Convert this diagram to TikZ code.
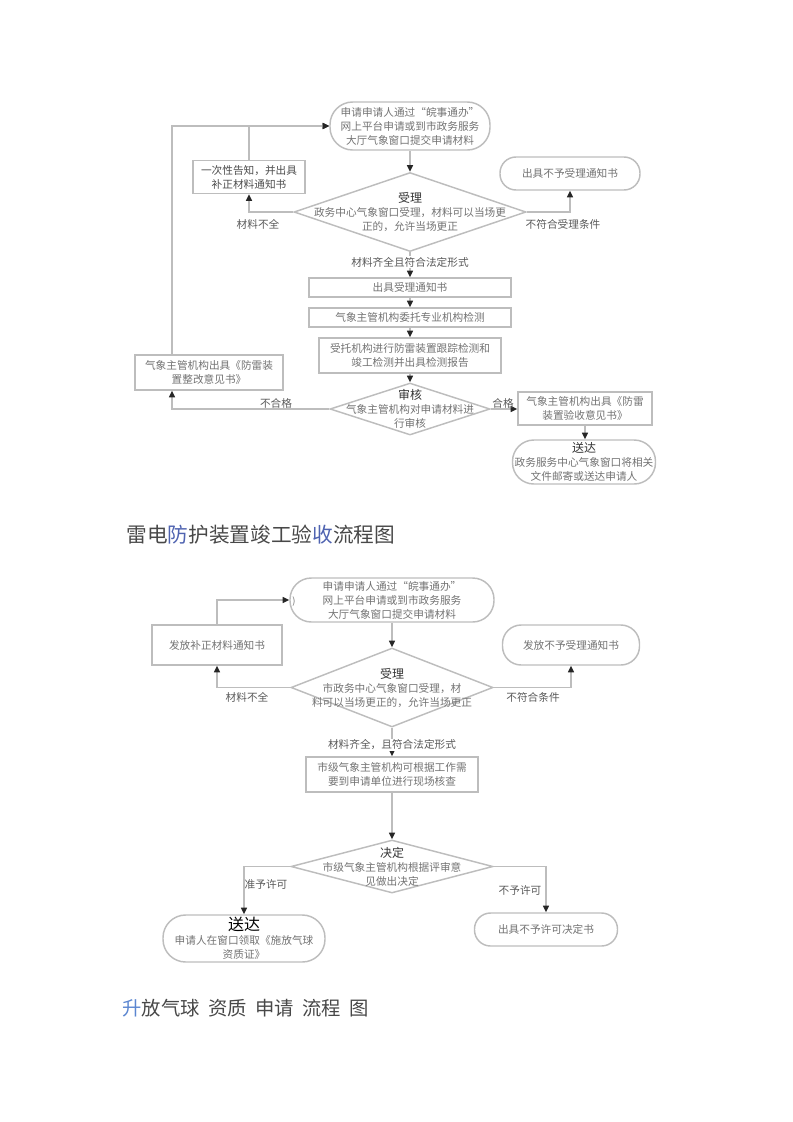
\documentclass[tikz,border=0pt]{standalone}
\usepackage{fontspec}
\setmainfont{Noto Sans CJK SC}
\usetikzlibrary{shapes.geometric,arrows.meta}

\definecolor{lineg}{HTML}{BDBDBD}
\definecolor{textg}{HTML}{727272}
\definecolor{titleg}{HTML}{484848}
\definecolor{titleb}{HTML}{4F63B0}
\definecolor{titlebl}{HTML}{5B86D0}
\newcommand{\dhead}[1]{{\color{black!80}\fontsize{9}{11}\selectfont #1}}

\begin{document}
\begin{tikzpicture}[x=0.75pt,y=-0.75pt,
  every node/.style={font=\fontsize{8}{10.5}\selectfont, text=textg, align=center, inner sep=1pt},
  sbox/.style={draw=lineg, line width=1.1pt, rectangle, inner sep=0pt},
  rbox/.style={sbox, rounded corners=12pt},
  dbox/.style={draw=lineg, line width=1.1pt, diamond, inner sep=0pt},
  conn/.style={draw=lineg, line width=1.1pt, -{Triangle[length=5pt,width=4.5pt,color=black!85]}},
  lab/.style={text=black!65}]
\useasboundingbox (0,0) rectangle (793,1122);

% 雷电防护装置竣工验收
\node[rbox, rounded corners=17pt, minimum width=120pt, minimum height=36pt] at (410,126) (start1) {申请申请人通过“皖事通办”\\网上平台申请或到市政务服务\\大厅气象窗口提交申请材料};
\node[sbox, minimum width=84pt, minimum height=24.75pt, text=black!70] at (249,177) (fix1) {一次性告知，并出具\\补正材料通知书};
\node[rbox, minimum width=105pt, minimum height=24.75pt] at (570,173.5) (no1) {出具不予受理通知书};
\node[dbox, minimum width=174pt, minimum height=59.25pt] at (410,212) (d1) {};
\node at (d1) (d1t) {\dhead{受理}\\政务中心气象窗口受理，材料可以当场更\\正的，允许当场更正};
\node[sbox, minimum width=151.5pt, minimum height=14.25pt] at (410,287.5) (acc1) {出具受理通知书};
\node[sbox, minimum width=151.5pt, minimum height=14.25pt] at (410,317.5) (ent1) {气象主管机构委托专业机构检测};
\node[sbox, minimum width=136.5pt, minimum height=26.25pt] at (410,355.5) (test1) {受托机构进行防雷装置跟踪检测和\\竣工检测并出具检测报告};
\node[dbox, minimum width=120pt, minimum height=39pt] at (410,409) (d2) {};
\node at (d2) (d2t) {\dhead{审核}\\气象主管机构对申请材料进\\行审核};
\node[sbox, minimum width=111pt, minimum height=26.25pt] at (209,372.5) (rect1) {气象主管机构出具《防雷装\\置整改意见书》};
\node[sbox, minimum width=100.5pt, minimum height=24.75pt] at (585,408.5) (pass1) {气象主管机构出具《防雷\\装置验收意见书》};
\node[rbox, rounded corners=16pt, minimum width=107.25pt, minimum height=33pt] at (584,462) (send1) {\dhead{送达}\\政务服务中心气象窗口将相关\\文件邮寄或送达申请人};
\coordinate (back) at (172,126);

\draw[conn] (start1) -- (d1);
\draw[conn] (d1.west) -| (fix1.south);
\draw[conn] (d1.east) -| (no1.south);
\draw[conn] (fix1.north) |- (start1.west);
\draw[conn] (d1) -- (acc1);
\draw[conn] (acc1) -- (ent1);
\draw[conn] (ent1) -- (test1);
\draw[conn] (test1) -- (d2);
\draw[conn] (d2.west) -| (rect1.south -| back);
\draw[conn] (rect1.north -| back) |- (start1.west);
\draw[conn] (d2.east) -- (d2.east -| pass1.west);
\draw[conn] (pass1.south) -- (pass1.south |- send1.north);

\node[lab] at (258,224) (l1) {材料不全};
\node[lab] at (563,224) (l2) {不符合受理条件};
\node[lab, fill=white] at (410,262) (l3) {材料齐全且符合法定形式};
\node[lab] at (276,403) (l4) {不合格};
\node[lab] at (503,403) (l5) {合格};

\node[text=titleg, font=\fontsize{15.5}{18}\selectfont, anchor=west] at (125,535) (title1) {雷电{\color{titleb}防}护装置竣工验{\color{titleb}收}流程图};

% 升放气球资质申请
\node[rbox, rounded corners=16pt, minimum width=153pt, minimum height=33pt] at (392,600) (start2) {申请申请人通过“皖事通办”\\网上平台申请或到市政务服务\\大厅气象窗口提交申请材料};
\node[font=\fontsize{7}{8}\selectfont] at (294,602) (paren) {)};
\node[sbox, minimum width=97.5pt, minimum height=30pt] at (217,645) (fix2) {发放补正材料通知书};
\node[rbox, rounded corners=14pt, minimum width=102.75pt, minimum height=30pt] at (571,645) (no2) {发放不予受理通知书};
\node[dbox, minimum width=151.5pt, minimum height=59.25pt] at (392,687.5) (d3) {};
\node at (d3) (d3t) {\dhead{受理}\\市政务中心气象窗口受理，材\\料可以当场更正的，允许当场更正};
\node[sbox, minimum width=129pt, minimum height=26.25pt] at (392,774.5) (chk2) {市级气象主管机构可根据工作需\\要到申请单位进行现场核查};
\node[dbox, minimum width=151.5pt, minimum height=39.75pt] at (392,866.5) (d4) {};
\node at (d4) (d4t) {\dhead{决定}\\市级气象主管机构根据评审意\\见做出决定};
\node[rbox, rounded corners=17pt, minimum width=121.5pt, minimum height=35.25pt] at (244,938.5) (ok2) {{\color{black}\fontsize{12}{13}\selectfont 送达}\\申请人在窗口领取《施放气球\\资质证》};
\node[rbox, minimum width=107.25pt, minimum height=24.75pt] at (546,929.5) (ref2) {出具不予许可决定书};

\draw[conn] (start2) -- (d3);
\draw[conn] (d3.west) -| (fix2.south);
\draw[conn] (d3.east) -| (no2.south);
\draw[conn] (fix2.north) |- (start2.west);
\draw[conn] (d3) -- (chk2);
\draw[conn] (chk2) -- (d4);
\draw[conn] (d4.west) -| (ok2.north);
\draw[conn] (d4.east) -| (ref2.north);

\node[lab] at (247,697) (m1) {材料不全};
\node[lab] at (533,697) (m2) {不符合条件};
\node[lab, fill=white] at (392,745) (m3) {材料齐全，且符合法定形式};
\node[lab] at (266,884) (m4) {准予许可};
\node[lab] at (520,890) (m5) {不予许可};

\node[text=titleg, font=\fontsize{14.5}{17}\selectfont, anchor=west] at (121,1008) (title2) {{\color{titlebl}升}放气球\hspace{3pt} 资质\hspace{3pt} 申请\hspace{3pt} 流程\hspace{3pt} 图};
\end{tikzpicture}
\end{document}
